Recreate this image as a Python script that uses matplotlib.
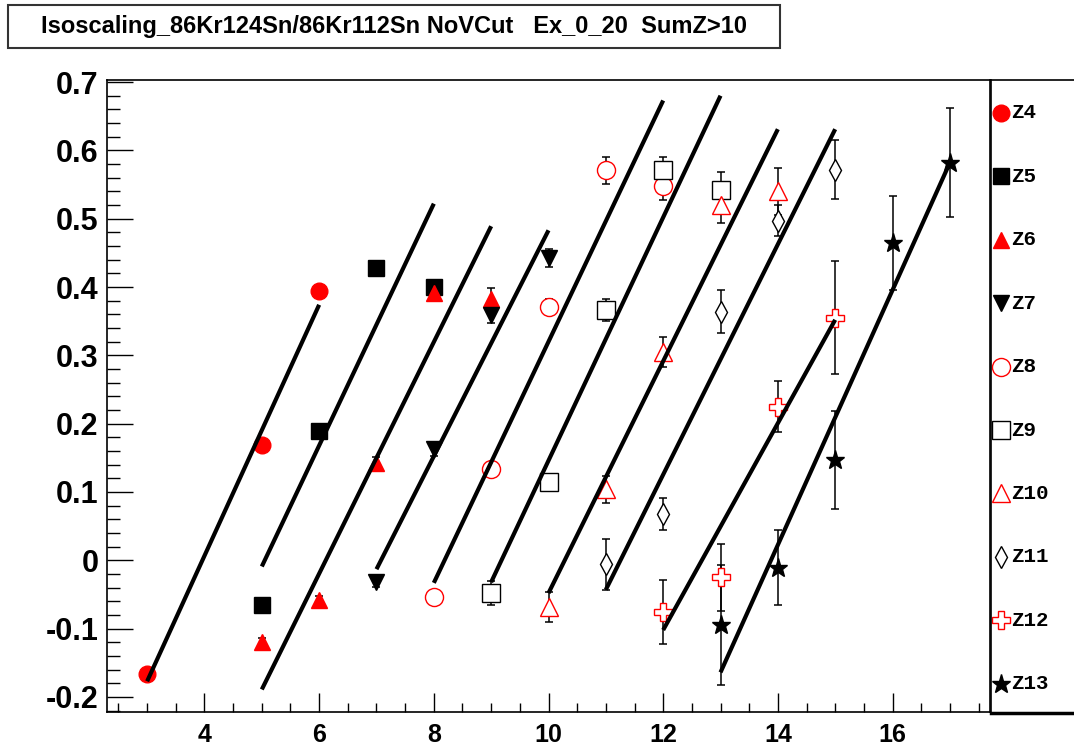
import matplotlib
matplotlib.use('Agg')
import matplotlib.pyplot as plt
from matplotlib.patches import Rectangle
from matplotlib.ticker import MultipleLocator, FuncFormatter
from matplotlib import font_manager

plt.rcParams['axes.unicode_minus'] = False

# isoscaling ratios, one set per Z (x = N)
z4_n = [3, 5, 6]
z4_y = [-0.167, 0.169, 0.394]
z4_err = [0.004, 0.004, 0.004]

z5_n = [5, 6, 7, 8]
z5_y = [-0.065, 0.189, 0.428, 0.400]
z5_err = [0.005, 0.006, 0.006, 0.008]

z6_n = [5, 6, 7, 8, 9]
z6_y = [-0.120, -0.058, 0.143, 0.391, 0.382]
z6_err = [0.006, 0.006, 0.008, 0.010, 0.016]

z7_n = [7, 8, 9, 10]
z7_y = [-0.031, 0.163, 0.359, 0.443]
z7_err = [0.008, 0.010, 0.012, 0.013]

z8_n = [8, 9, 10, 11, 12]
z8_y = [-0.053, 0.133, 0.371, 0.571, 0.548]
z8_err = [0.008, 0.010, 0.012, 0.020, 0.020]

z9_n = [9, 10, 11, 12, 13]
z9_y = [-0.048, 0.115, 0.367, 0.572, 0.542]
z9_err = [0.018, 0.012, 0.016, 0.019, 0.026]

z10_n = [10, 11, 12, 13, 14]
z10_y = [-0.068, 0.104, 0.305, 0.520, 0.540]
z10_err = [0.022, 0.020, 0.022, 0.027, 0.034]

z11_n = [11, 12, 13, 14, 15]
z11_y = [-0.006, 0.068, 0.364, 0.497, 0.572]
z11_err = [0.037, 0.023, 0.031, 0.023, 0.043]

z12_n = [12, 13, 14, 15]
z12_y = [-0.076, -0.025, 0.225, 0.355]
z12_err = [0.047, 0.049, 0.037, 0.083]

z13_n = [13, 14, 15, 16, 17]
z13_y = [-0.095, -0.011, 0.147, 0.464, 0.582]
z13_err = [0.088, 0.055, 0.072, 0.069, 0.080]

labels = ['Z4', 'Z5', 'Z6', 'Z7', 'Z8', 'Z9', 'Z10', 'Z11', 'Z12', 'Z13']

# fitted lines, end points
fit_x0 = [3, 5, 5, 7, 8, 9, 10, 11, 12, 13]
fit_x1 = [6, 8, 9, 10, 12, 13, 14, 15, 15, 17]
fit_y0 = [-0.177, -0.009, -0.189, -0.013, -0.033, -0.032, -0.048, -0.043, -0.102, -0.164]
fit_y1 = [0.374, 0.522, 0.489, 0.483, 0.673, 0.680, 0.631, 0.631, 0.352, 0.582]

series = [(z4_n, z4_y, z4_err), (z5_n, z5_y, z5_err), (z6_n, z6_y, z6_err),
          (z7_n, z7_y, z7_err), (z8_n, z8_y, z8_err), (z9_n, z9_y, z9_err),
          (z10_n, z10_y, z10_err), (z11_n, z11_y, z11_err),
          (z12_n, z12_y, z12_err), (z13_n, z13_y, z13_err)]

# marker, face, edge, size
styles = [('o', 'red', 'red', 12),
          ('s', 'black', 'black', 11.5),
          ('^', 'red', 'red', 12),
          ('v', 'black', 'black', 12),
          ('o', 'white', 'red', 13),
          ('s', 'white', 'black', 12.5),
          ('^', 'white', 'red', 13.5),
          ('d', 'white', 'black', 11),
          ('P', 'white', 'red', 12.5),
          ('*', 'black', 'black', 14)]

names = {f.name for f in font_manager.fontManager.ttflist}
if 'Liberation Sans Narrow' in names:
    narrow = 'Liberation Sans Narrow'
    title_fs, xt_fs = 20, 20
else:
    narrow = 'Liberation Sans'
    title_fs, xt_fs = 17, 18

W, H = 1074.0, 748.0
fig = plt.figure(figsize=(W / 100, H / 100), dpi=100)
ax = fig.add_axes([107 / W, 1 - 712 / H, (990 - 107) / W, (712 - 80) / H])

for (n, y, e), (m, fc, ec, ms) in zip(series, styles):
    ax.errorbar(n, y, yerr=e, fmt='none', ecolor='black', elinewidth=1.1,
                capsize=3, capthick=1.1, zorder=2)
    ax.plot(n, y, ls='none', marker=m, ms=ms, mfc=fc, mec=ec, mew=1.0, zorder=3)

for i in range(len(fit_x0)):
    ax.plot([fit_x0[i], fit_x1[i]], [fit_y0[i], fit_y1[i]], color='black',
            lw=3, solid_capstyle='butt', zorder=4)

ax.set_xlim(2.3, 17.7)
ax.set_ylim(-0.222, 0.703)
ax.xaxis.set_major_locator(MultipleLocator(2))
ax.xaxis.set_minor_locator(MultipleLocator(0.5))
ax.yaxis.set_major_locator(MultipleLocator(0.1))
ax.yaxis.set_minor_locator(MultipleLocator(0.02))
ax.yaxis.set_major_formatter(FuncFormatter(lambda v, p: '0' if abs(v) < 1e-9 else '%.1f' % v))
ax.tick_params(which='both', direction='in', top=False, right=False, width=1)
ax.tick_params(axis='y', which='major', length=19, pad=6)
ax.tick_params(axis='y', which='minor', length=9.5)
ax.tick_params(axis='x', which='major', length=13.5, pad=8)
ax.tick_params(axis='x', which='minor', length=6.8)
for t in ax.get_yticklabels():
    t.set_fontfamily('Liberation Sans')
    t.set_fontweight('bold')
    t.set_fontsize(22)
for t in ax.get_xticklabels():
    t.set_fontfamily(narrow)
    t.set_fontweight('bold')
    t.set_fontsize(xt_fs)
for s in ax.spines.values():
    s.set_linewidth(1.2)

# legend box on the right
lax = fig.add_axes([991 / W, 1 - 713 / H, 100 / W, 633 / H])
lax.set_xlim(991, 1091)
lax.set_ylim(713, 80)
lax.set_xticks([])
lax.set_yticks([])
lax.spines['right'].set_visible(False)
lax.spines['left'].set_linewidth(1.2)
lax.spines['top'].set_linewidth(1.2)
lax.spines['bottom'].set_linewidth(2.5)
for i, (lab, (m, fc, ec, ms)) in enumerate(zip(labels, styles)):
    yy = 113 + i * 63.4
    lax.plot([1001], [yy], marker=m, ms=ms, mfc=fc, mec=ec, mew=1.0)
    lax.text(1011, yy, lab, ha='left', va='center', fontsize=15,
             fontweight='bold', family='Liberation Mono')

# title box
fig.patches.append(Rectangle((8 / W, 1 - 48 / H), 772 / W, 43 / H,
                             transform=fig.transFigure, fill=False,
                             ec='#333333', lw=1.5))
fig.text(394 / W, 1 - 27 / H,
         'Isoscaling_86Kr124Sn/86Kr112Sn NoVCut   Ex_0_20  SumZ>10',
         ha='center', va='center', fontsize=title_fs, fontweight='bold',
         family=narrow)

fig.savefig('out.png', dpi=100)
